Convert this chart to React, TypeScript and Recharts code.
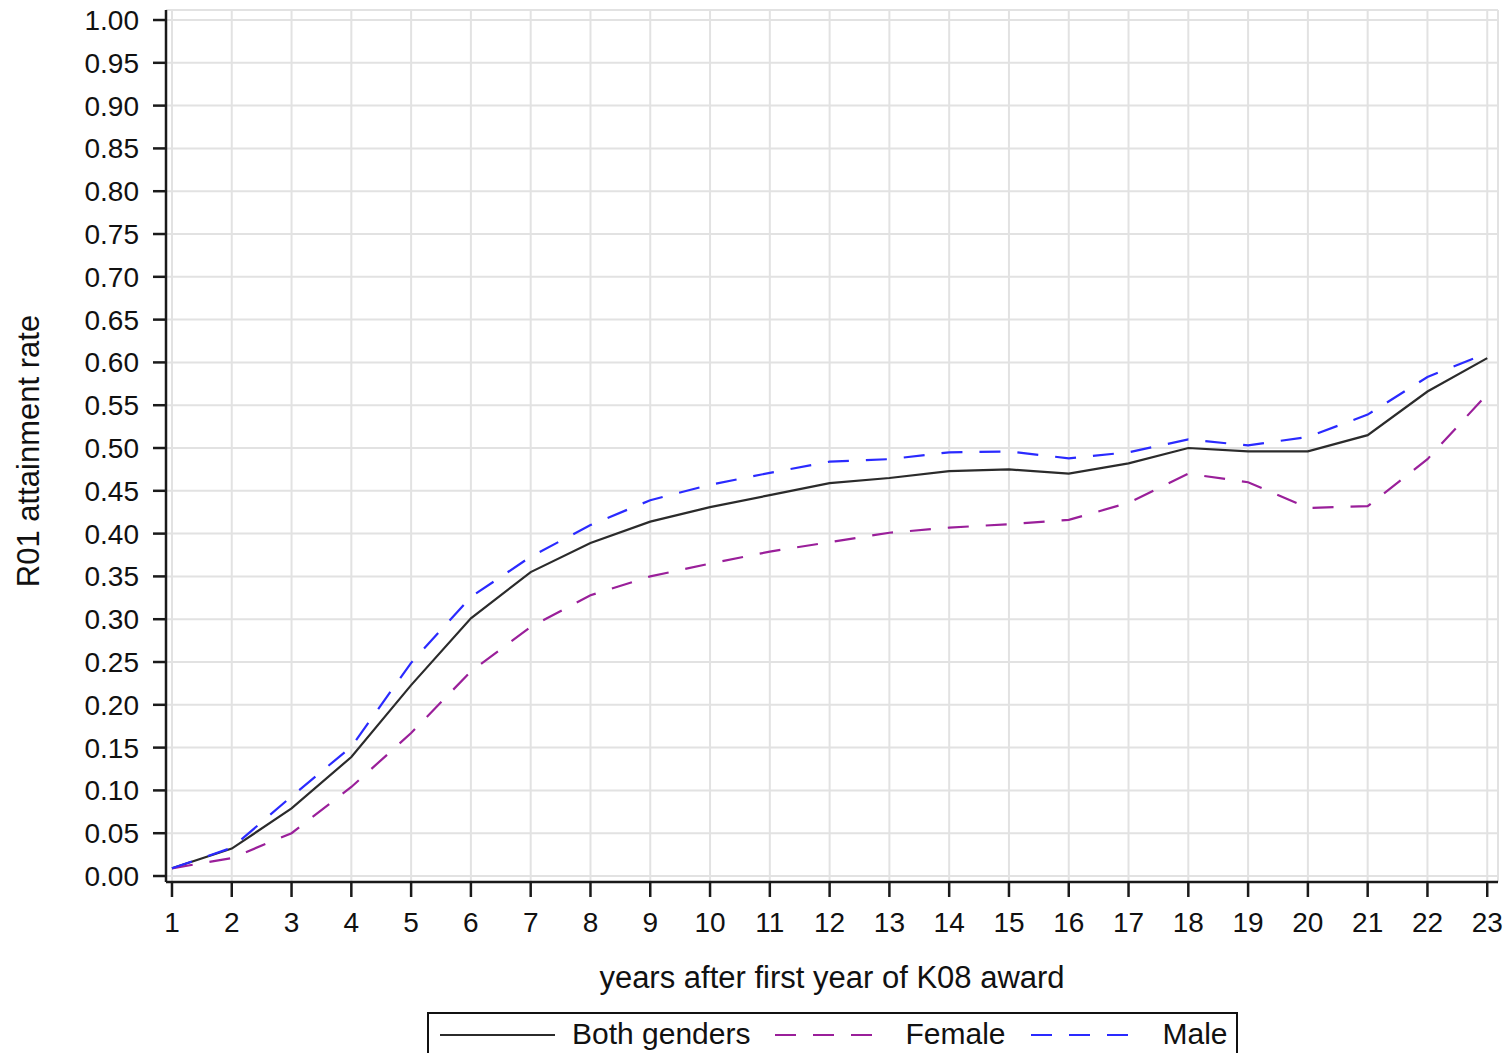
import { LineChart, Line, XAxis, YAxis, CartesianGrid } from 'recharts';

const years = [1, 2, 3, 4, 5, 6, 7, 8, 9, 10, 11, 12, 13, 14, 15, 16, 17, 18, 19, 20, 21, 22, 23];
const bothGenders = [0.009, 0.032, 0.079, 0.139, 0.223, 0.301, 0.355, 0.389, 0.414, 0.431, 0.445, 0.459, 0.465, 0.473, 0.475, 0.47, 0.482, 0.5, 0.496, 0.496, 0.515, 0.566, 0.605];
const female = [0.009, 0.021, 0.05, 0.104, 0.167, 0.239, 0.291, 0.328, 0.35, 0.365, 0.379, 0.39, 0.401, 0.407, 0.411, 0.416, 0.436, 0.47, 0.46, 0.43, 0.432, 0.487, 0.563];
const male = [0.009, 0.033, 0.093, 0.151, 0.249, 0.326, 0.373, 0.41, 0.439, 0.457, 0.471, 0.484, 0.487, 0.495, 0.496, 0.488, 0.495, 0.51, 0.503, 0.513, 0.539, 0.583, 0.611];
const yTicks = [0, 0.05, 0.1, 0.15, 0.2, 0.25, 0.3, 0.35, 0.4, 0.45, 0.5, 0.55, 0.6, 0.65, 0.7, 0.75, 0.8, 0.85, 0.9, 0.95, 1];

const data = years.map((year, i) => ({
  year,
  both: bothGenders[i],
  female: female[i],
  male: male[i],
}));

const series = [
  { key: 'both', name: 'Both genders', color: '#2b2b2b', dash: undefined, sample: 115, gap: 17, after: 25 },
  { key: 'female', name: 'Female', color: '#9a1f9a', dash: '21 17', sample: 100, gap: 30, after: 25 },
  { key: 'male', name: 'Male', color: '#2a2aff', dash: '21 17', sample: 105, gap: 27, after: 0 },
];

const font = '"Liberation Sans", Arial, sans-serif';
const xDomain = [0.9, 23.18];
const yDomain = [-0.007, 1.0117];

export default function App() {
  return (
    <div style={{ position: 'absolute', left: 0, top: 0, width: 1509, height: 1053, background: '#fff', fontFamily: font }}>
      <LineChart width={1509} height={1053} data={data} margin={{ top: 10, right: 11, bottom: 0, left: 0 }}>
        <CartesianGrid stroke="#e2e2e2" strokeWidth={2} />
        <XAxis
          dataKey="year"
          type="number"
          domain={xDomain}
          ticks={years}
          allowDataOverflow
          height={171}
          stroke="#1a1a1a"
          strokeWidth={2.5}
          tickSize={15}
          tickMargin={15}
          tick={{ fill: '#111', fontSize: 28, fontFamily: font }}
          label={{ value: 'years after first year of K08 award', position: 'insideBottom', offset: 65, style: { fill: '#111', fontSize: 31, fontFamily: font } }}
        />
        <XAxis xAxisId="top" dataKey="year" type="number" domain={xDomain} allowDataOverflow orientation="top" height={0} tick={false} tickLine={false} stroke="#1a1a1a" strokeWidth={2.5} />
        <YAxis
          type="number"
          domain={yDomain}
          ticks={yTicks}
          allowDataOverflow
          width={166}
          stroke="#1a1a1a"
          strokeWidth={2.5}
          tickSize={13}
          tickMargin={14}
          tickFormatter={(v: number) => v.toFixed(2)}
          tick={{ fill: '#111', fontSize: 28, fontFamily: font }}
          label={{ value: 'R01 attainment rate', angle: -90, position: 'insideLeft', offset: 28, dy: 5, style: { fill: '#111', fontSize: 31, fontFamily: font, textAnchor: 'middle' } }}
        />
        <YAxis yAxisId="right" type="number" domain={yDomain} allowDataOverflow orientation="right" width={0} tick={false} tickLine={false} stroke="#1a1a1a" strokeWidth={2.5} />
        {series.map((s) => (
          <Line
            key={s.key}
            dataKey={s.key}
            name={s.name}
            type="linear"
            stroke={s.color}
            strokeWidth={2.2}
            strokeDasharray={s.dash}
            dot={false}
            isAnimationActive={false}
          />
        ))}
      </LineChart>
      <div
        style={{
          position: 'absolute',
          left: 427,
          top: 1012,
          width: 811,
          height: 50,
          boxSizing: 'border-box',
          border: '2px solid #111',
          display: 'flex',
          alignItems: 'flex-start',
          paddingLeft: 11,
          paddingTop: 3,
          fontSize: 30,
          color: '#111',
        }}
      >
        {series.map((s) => (
          <div key={s.key} style={{ display: 'flex', alignItems: 'center', marginRight: s.after }}>
            <svg width={s.sample} height={34} style={{ marginRight: s.gap }}>
              <line x1={0} x2={s.sample} y1={18} y2={18} stroke={s.color} strokeWidth={2.2} strokeDasharray={s.dash} />
            </svg>
            <span style={{ lineHeight: '34px' }}>{s.name}</span>
          </div>
        ))}
      </div>
    </div>
  );
}
